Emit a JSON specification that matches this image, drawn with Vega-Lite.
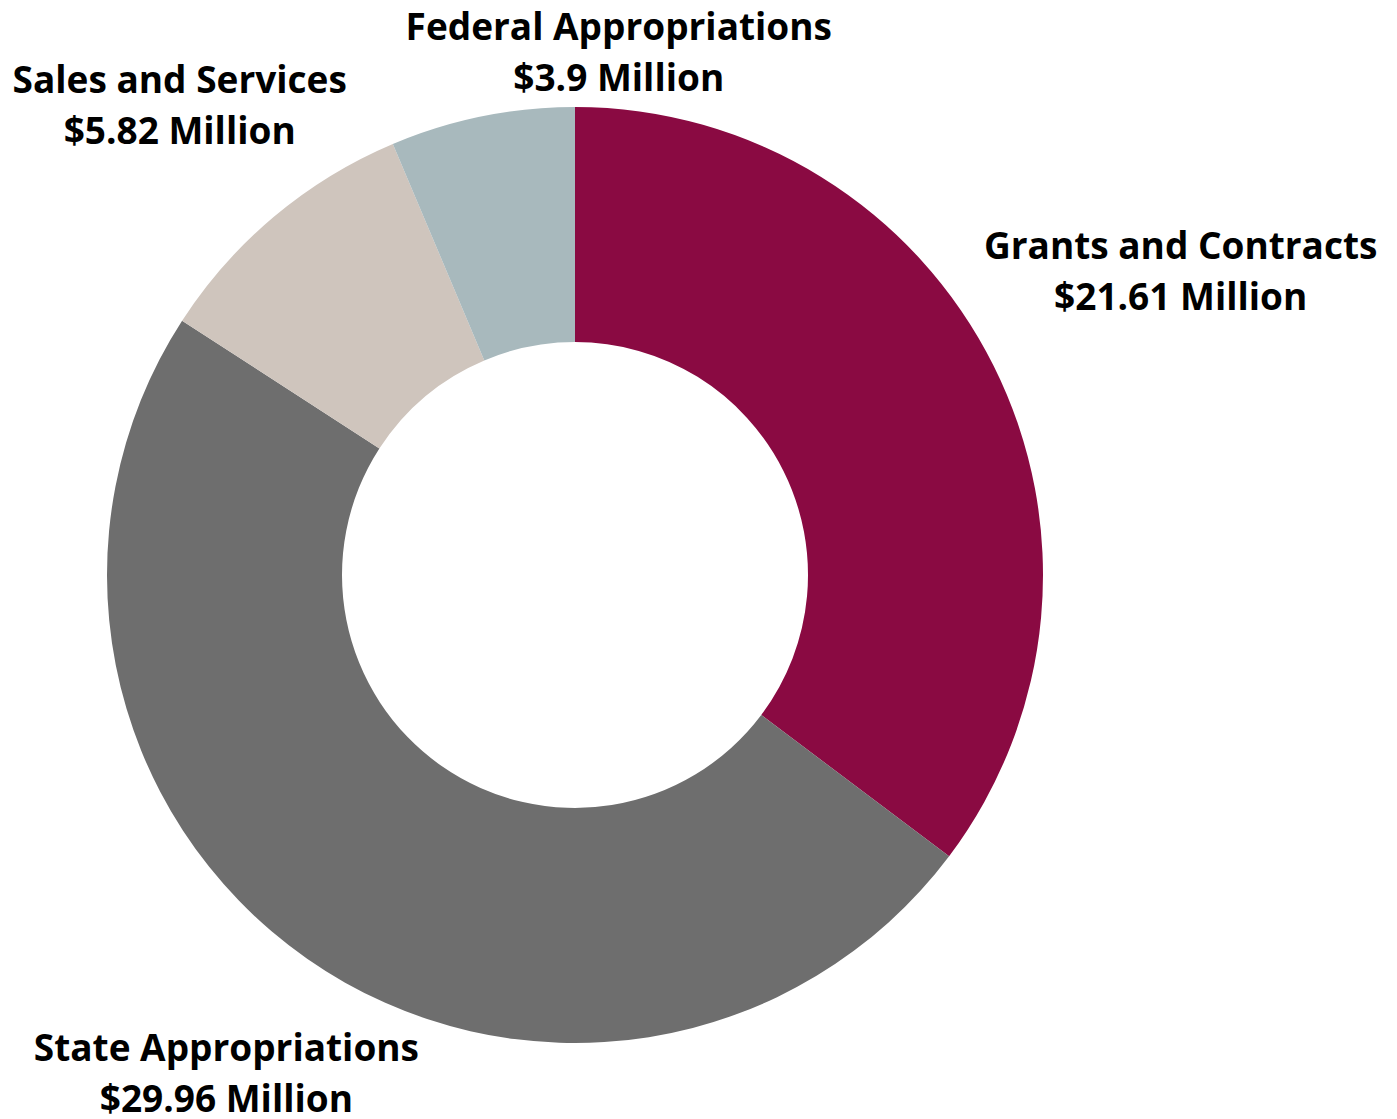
{
  "$schema": "https://vega.github.io/schema/vega-lite/v6.json",
  "width": 1150,
  "height": 1150,
  "autosize": {"type": "none"},
  "padding": {"left": 0, "top": 0, "right": 247, "bottom": 0},
  "background": "white",
  "config": {"view": {"stroke": null}, "font": "Open Sans"},
  "data": {
    "values": [
      {"category": "Grants and Contracts", "value": 21.61, "label": "Grants and Contracts\n$21.61 Million", "idx": 1},
      {"category": "State Appropriations", "value": 29.96, "label": "State Appropriations\n$29.96 Million", "idx": 2},
      {"category": "Sales and Services", "value": 5.82, "label": "Sales and Services\n$5.82 Million", "idx": 3},
      {"category": "Federal Appropriations", "value": 3.9, "label": "Federal Appropriations\n$3.9 Million", "idx": 4}
    ]
  },
  "encoding": {
    "theta": {"field": "value", "type": "quantitative", "stack": true},
    "order": {"field": "idx", "type": "quantitative"},
    "detail": {"field": "category", "type": "nominal"}
  },
  "layer": [
    {
      "mark": {"type": "arc", "innerRadius": 233, "outerRadius": 468},
      "encoding": {
        "color": {
          "field": "category",
          "type": "nominal",
          "scale": {
            "domain": ["Grants and Contracts", "State Appropriations", "Sales and Services", "Federal Appropriations"],
            "range": ["#8A0A42", "#6E6E6E", "#CFC5BD", "#A8B9BD"]
          },
          "legend": null
        }
      }
    },
    {
      "mark": {"type": "text", "radius": 677, "dy": -25, "font": "Open Sans", "fontWeight": "bold", "fontSize": 37, "lineHeight": 51, "lineBreak": "\n", "align": "center", "baseline": "middle", "color": "black"},
      "encoding": {"text": {"condition": {"test": "datum.category === 'Grants and Contracts'", "field": "label"}, "value": ""}}
    },
    {
      "mark": {"type": "text", "radius": 609, "dy": -24, "font": "Open Sans", "fontWeight": "bold", "fontSize": 37, "lineHeight": 51, "lineBreak": "\n", "align": "center", "baseline": "middle", "color": "black"},
      "encoding": {"text": {"condition": {"test": "datum.category === 'State Appropriations'", "field": "label"}, "value": ""}}
    },
    {
      "mark": {"type": "text", "radius": 615, "dy": -22, "font": "Open Sans", "fontWeight": "bold", "fontSize": 37, "lineHeight": 51, "lineBreak": "\n", "align": "center", "baseline": "middle", "color": "black"},
      "encoding": {"text": {"condition": {"test": "datum.category === 'Sales and Services'", "field": "label"}, "value": ""}}
    },
    {
      "mark": {"type": "text", "radius": 535, "dx": 150, "dy": -22, "font": "Open Sans", "fontWeight": "bold", "fontSize": 37, "lineHeight": 51, "lineBreak": "\n", "align": "center", "baseline": "middle", "color": "black"},
      "encoding": {"text": {"condition": {"test": "datum.category === 'Federal Appropriations'", "field": "label"}, "value": ""}}
    }
  ]
}
